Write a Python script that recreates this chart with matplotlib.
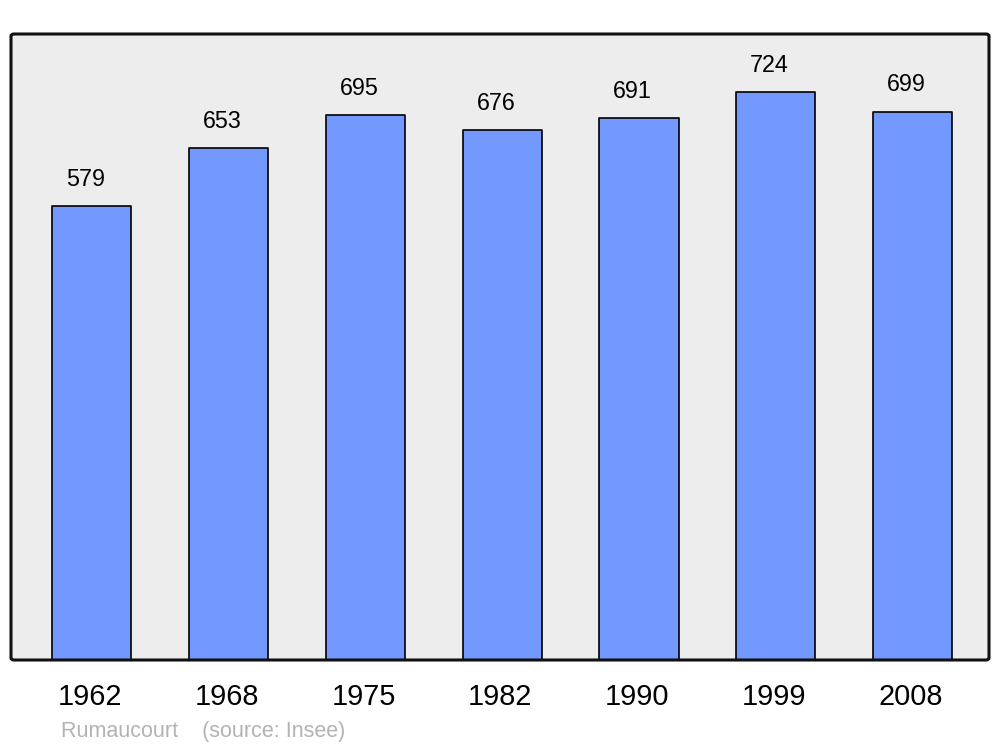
import matplotlib
matplotlib.use("Agg")
import matplotlib.pyplot as plt
from matplotlib.patches import FancyBboxPatch

years = ["1962", "1968", "1975", "1982", "1990", "1999", "2008"]
population = [579, 653, 695, 676, 691, 724, 699]
footer = "Rumaucourt    (source: Insee)"

plt.rcParams['font.family'] = ['Liberation Sans', 'DejaVu Sans']

fig = plt.figure(figsize=(10, 7.47), dpi=100)
ax = fig.add_axes([0.011, 1 - 660 / 747, 0.978, (660 - 34) / 747])
ax.set_facecolor('#ededed')

x = list(range(len(years)))
bars = ax.bar(x, population, width=0.578, color='#7399ff', edgecolor='black',
              linewidth=1.2, zorder=2)
for b in bars:
    b.set_joinstyle('round')

ax.set_xlim(-0.592, 6.559)
ax.set_ylim(0, 798)

for xi, v in zip(x, population):
    ax.annotate(str(v), (xi, v), xytext=(-4.5, 19.2), textcoords='offset points',
                ha='center', va='center', fontsize=16.8, color='black')

ax.set_xticks([])
ax.set_yticks([])
for s in ax.spines.values():
    s.set_visible(False)

frame = FancyBboxPatch((0.011, 1 - 660 / 747), 0.978, (660 - 34) / 747,
                       boxstyle='round,pad=0,rounding_size=0.003',
                       transform=fig.transFigure, fill=False,
                       edgecolor='#111111', linewidth=2.2, zorder=5)
fig.patches.append(frame)

for xi, y in zip(x, years):
    px = ax.transData.transform((xi, 0))[0] - 2
    fig.text(px / 1000, 1 - 697 / 747, y, ha='center', va='center',
             fontsize=20.8, color='black')

fig.text(61 / 1000, 1 - 732 / 747, footer, ha='left', va='center',
         fontsize=15.5, color='#b3b3b3')

fig.savefig('out.png', dpi=100, facecolor='white')
